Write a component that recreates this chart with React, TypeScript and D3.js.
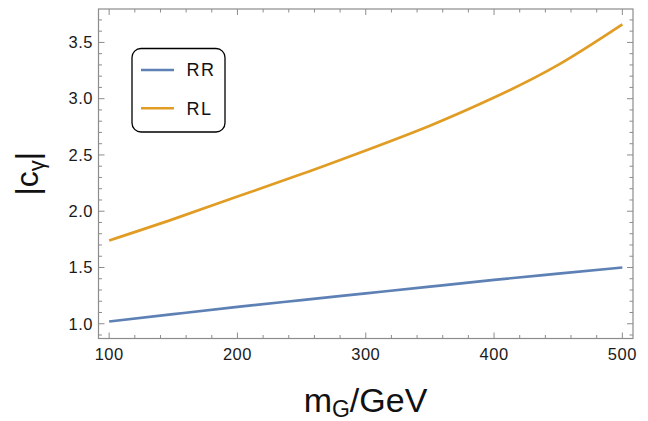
import React, { useEffect, useRef } from 'react';
import * as d3 from 'd3';

// m_G in GeV
const masses = [100, 150, 200, 250, 300, 350, 400, 450, 500];
const rrValues = [1.02, 1.085, 1.15, 1.21, 1.27, 1.33, 1.39, 1.445, 1.5];
const rlValues = [1.74, 1.93, 2.13, 2.33, 2.54, 2.76, 3.01, 3.3, 3.66];
const seriesNames = ['RR', 'RL'];
const seriesColors = ['#5e81b5', '#e19c24'];
const xTicks = [100, 200, 300, 400, 500];
const yTicks = [1.0, 1.5, 2.0, 2.5, 3.0, 3.5];

const App = () => {
  const svgRef = useRef<SVGSVGElement | null>(null);

  useEffect(() => {
    const width = 648;
    const height = 421;
    const left = 98.5, right = 633, top = 9, bottom = 338.5;

    const svg = d3.select(svgRef.current);
    svg.selectAll('*').remove();
    svg.attr('width', width).attr('height', height)
      .attr('style', 'position:absolute;left:0;top:0;font-family:Arial, "Liberation Sans", sans-serif;');

    const x = d3.scaleLinear().domain([91.7, 508.3]).range([left, right]);
    const y = d3.scaleLinear().domain([0.869, 3.797]).range([bottom, top]);

    const frameColor = '#8c8c8c';

    // frame
    svg.append('rect')
      .attr('x', left).attr('y', top)
      .attr('width', right - left).attr('height', bottom - top)
      .attr('fill', 'none').attr('stroke', frameColor).attr('stroke-width', 1.2);

    // x ticks (bottom and mirrored top)
    const xMinor = d3.range(100, 501, 20).filter(v => !xTicks.includes(v));
    const tickG = svg.append('g').attr('stroke', frameColor).attr('stroke-width', 1);
    const drawX = (vals: number[], len: number) => {
      tickG.selectAll(null).data(vals).join('line')
        .attr('x1', d => x(d)).attr('x2', d => x(d))
        .attr('y1', bottom).attr('y2', bottom - len);
      tickG.selectAll(null).data(vals).join('line')
        .attr('x1', d => x(d)).attr('x2', d => x(d))
        .attr('y1', top).attr('y2', top + len);
    };
    drawX(xTicks, 6);
    drawX(xMinor, 3.5);

    const yMinor = d3.range(9, 38).map(v => v / 10).filter(v => !yTicks.some(t => Math.abs(t - v) < 1e-6));
    const drawY = (vals: number[], len: number) => {
      tickG.selectAll(null).data(vals).join('line')
        .attr('y1', d => y(d)).attr('y2', d => y(d))
        .attr('x1', left).attr('x2', left + len);
      tickG.selectAll(null).data(vals).join('line')
        .attr('y1', d => y(d)).attr('y2', d => y(d))
        .attr('x1', right).attr('x2', right - len);
    };
    drawY(yTicks, 6);
    drawY(yMinor, 3.5);

    // tick labels
    svg.append('g').attr('font-size', 16.5).attr('fill', '#1a1a1a').attr('text-anchor', 'middle')
      .attr('letter-spacing', 0.5)
      .selectAll('text').data(xTicks).join('text')
      .attr('x', d => x(d)).attr('y', 360)
      .text(d => d);
    svg.append('g').attr('font-size', 16.5).attr('fill', '#1a1a1a').attr('text-anchor', 'end')
      .attr('letter-spacing', 0.5)
      .selectAll('text').data(yTicks).join('text')
      .attr('x', 93).attr('y', d => y(d)).attr('dy', '0.35em')
      .text(d => d3.format('.1f')(d));

    // lines
    const line = d3.line<number>()
      .x((_, i) => x(masses[i]))
      .y(d => y(d))
      .curve(d3.curveNatural);
    [rrValues, rlValues].forEach((vals, k) => {
      svg.append('path')
        .attr('d', line(vals))
        .attr('fill', 'none')
        .attr('stroke', seriesColors[k])
        .attr('stroke-width', 2.7);
    });

    // legend
    const lg = svg.append('g');
    lg.append('rect')
      .attr('x', 132).attr('y', 48.5).attr('width', 93).attr('height', 83.5)
      .attr('rx', 9).attr('fill', 'white').attr('stroke', '#000').attr('stroke-width', 1.3);
    seriesNames.forEach((name, k) => {
      const ly = 70 + k * 38.3;
      lg.append('line')
        .attr('x1', 141).attr('x2', 174).attr('y1', ly).attr('y2', ly)
        .attr('stroke', seriesColors[k]).attr('stroke-width', 2.4);
      lg.append('text')
        .attr('x', 186.5).attr('y', ly).attr('dy', '0.36em')
        .attr('font-size', 18).attr('letter-spacing', 1.5).attr('fill', '#111')
        .text(name);
    });

    // axis titles
    const xt = svg.append('text')
      .attr('x', 365.5).attr('y', 412)
      .attr('text-anchor', 'middle').attr('font-size', 34).attr('fill', '#111');
    xt.append('tspan').text('m');
    xt.append('tspan').attr('font-size', 23).attr('dy', 5).text('G');
    xt.append('tspan').attr('dy', -5).text('/GeV');

    const yt = svg.append('text')
      .attr('transform', `translate(38,${(top + bottom) / 2}) rotate(-90)`)
      .attr('text-anchor', 'middle').attr('font-size', 32).attr('fill', '#111');
    yt.append('tspan').text('|c');
    yt.append('tspan').attr('font-size', 22).attr('dy', 6).text('γ');
    yt.append('tspan').attr('dy', -6).text('|');
  }, []);

  return <svg ref={svgRef} />;
};

export default App;
